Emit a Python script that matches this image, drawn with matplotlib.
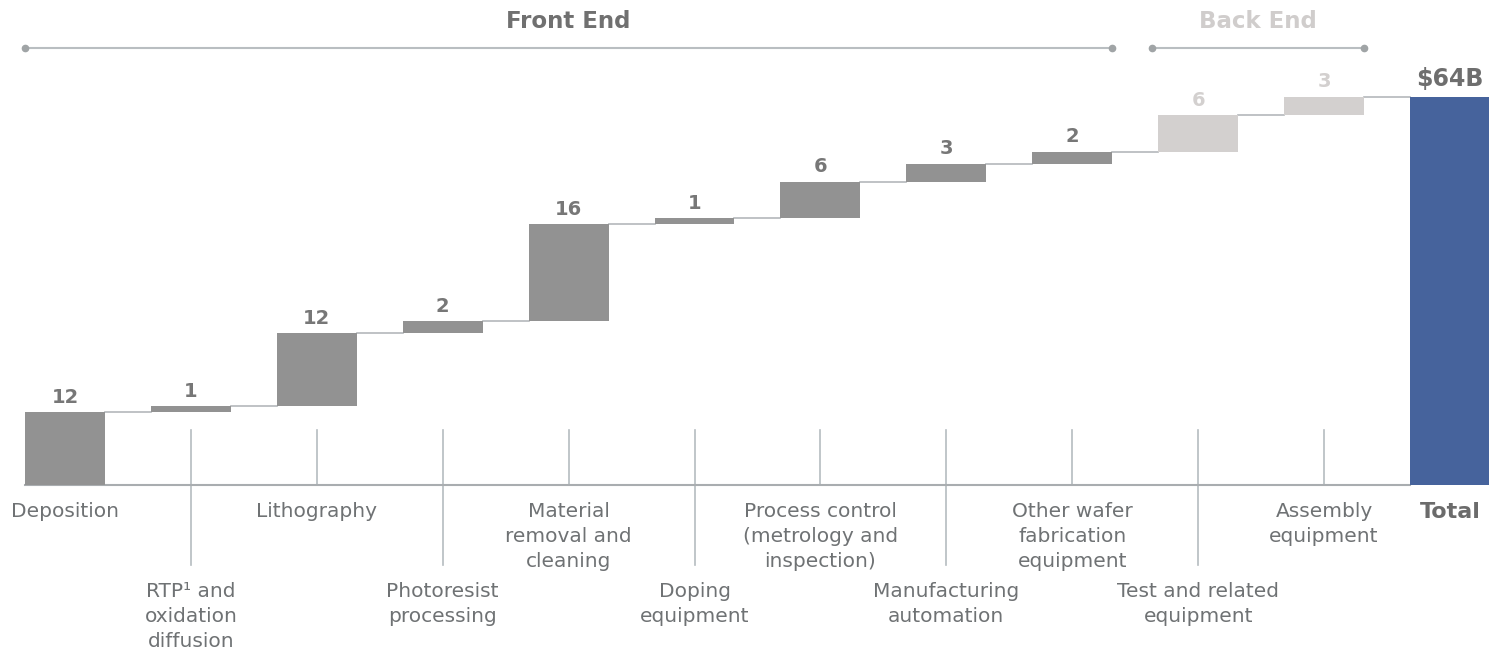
import matplotlib.pyplot as plt

categories = [
    'Deposition',
    'RTP\u00b9 and\noxidation\ndiffusion',
    'Lithography',
    'Photoresist\nprocessing',
    'Material\nremoval and\ncleaning',
    'Doping\nequipment',
    'Process control\n(metrology and\ninspection)',
    'Manufacturing\nautomation',
    'Other wafer\nfabrication\nequipment',
    'Test and related\nequipment',
    'Assembly\nequipment',
]
values = [12, 1, 12, 2, 16, 1, 6, 3, 2, 6, 3]
n_front = 9  # first 9 steps are front end, the rest back end
total_label = 'Total'

FRONT = '#929292'
BACK = '#d3d0cf'
TOTAL = '#46639c'
TEXT = '#6f7274'
VALUE = '#777777'
LINE = '#b4b8bb'

W = 0.635

fig = plt.figure(figsize=(14.89, 6.57), dpi=100)
ax = fig.add_axes([0, 0, 1, 1])
ax.set_xlim(-0.516, 11.31)
ax.set_ylim(-28.37, 80.0)
ax.axis('off')

n = len(values)
bottoms = []
run = 0
for v in values:
    bottoms.append(run)
    run += v
total = run
tops = [b + v for b, v in zip(bottoms, values)]

colors = [FRONT] * n_front + [BACK] * (n - n_front)
x = list(range(n))
ax.bar(x, values, bottom=bottoms, width=W, color=colors, zorder=3)
ax.bar(n, total, width=W, color=TOTAL, zorder=3)

# connectors between steps
for i in range(n):
    ax.plot([i + W / 2, i + 1 - W / 2], [tops[i], tops[i]], color=LINE, lw=1.2, zorder=2)

# baseline
ax.plot([-W / 2, n - W / 2], [0, 0], color='#a9adb0', lw=1.5, zorder=2)

# leader ticks under the categories
tick_top = 9.1
tick_long = -13.2
for i in range(1, n):
    y0 = tick_long if i % 2 == 1 else 0
    ax.plot([i, i], [tick_top, y0], color='#b5bcc0', lw=1.2, zorder=1)

# value labels
for i, v in enumerate(values):
    c = VALUE if i < n_front else BACK
    ax.annotate(str(v), xy=(i, tops[i]), xytext=(0, 4), textcoords='offset points',
                ha='center', va='bottom', fontsize=14, fontweight='bold', color=c)
ax.annotate(f'${total}B', xy=(n, total), xytext=(0, 4), textcoords='offset points',
            ha='center', va='bottom', fontsize=17, fontweight='bold', color='#6e6e6e')

# category labels, alternating rows
for i, lab in enumerate(categories):
    off = -12 if i % 2 == 0 else -70
    ax.annotate(lab, xy=(i, 0), xytext=(0, off), textcoords='offset points',
                ha='center', va='top', fontsize=14.5, color=TEXT, linespacing=1.4)
ax.annotate(total_label, xy=(n, 0), xytext=(0, -12.5), textcoords='offset points',
            ha='center', va='top', fontsize=16, fontweight='bold', color='#6b6b6b')

# front end / back end brackets
br_y = 72.1
lab_y = 76.4
groups = [
    ('Front End', 0, n_front - 1, '#707070'),
    ('Back End', n_front, n - 1, '#d0cdcc'),
]
for name, a, b, c in groups:
    x0 = a - W / 2 - (0.05 if a > 0 else 0)
    x1 = b + W / 2
    ax.plot([x0, x1], [br_y, br_y], color='#b9bec1', lw=1.5, zorder=2)
    ax.plot([x0, x1], [br_y, br_y], 'o', color='#a0a4a6', ms=4.5, zorder=3)
    ax.text((x0 + x1) / 2, lab_y, name, ha='center', va='center',
            fontsize=16.5, fontweight='bold', color=c)

fig.savefig('out.png', dpi=100)
